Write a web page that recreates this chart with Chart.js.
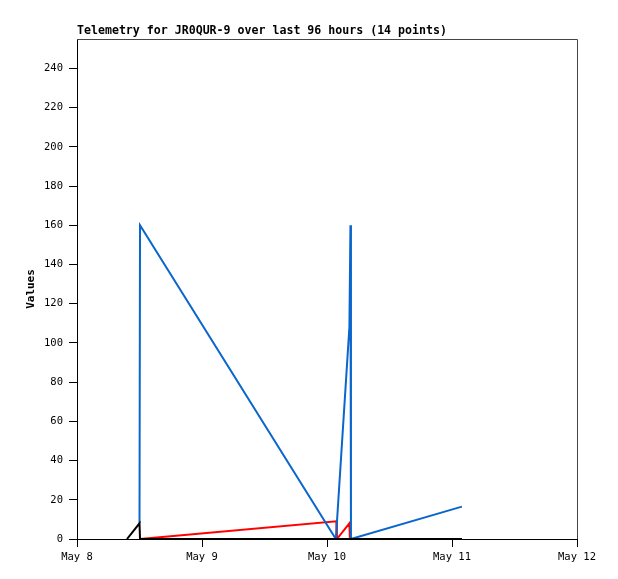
<!DOCTYPE html>
<html>
<head>
<meta charset="utf-8">
<script src="https://cdn.jsdelivr.net/npm/chart.js@4.4.1/dist/chart.umd.min.js"></script>
<style>
  html, body { margin: 0; padding: 0; background: #ffffff; }
  #wrap { width: 618px; height: 579px; }
</style>
</head>
<body>
<div id="wrap"><canvas id="c" width="618" height="579"></canvas></div>
<script>
// ---- data (x = hours since May 8 00:00) ----
const chartTitle = "Telemetry for JR0QUR-9 over last 96 hours (14 points)";
const yAxisTitle = "Values";
const xTickLabels = ["May 8", "May 9", "May 10", "May 11", "May 12"];
const yTickValues = [0, 20, 40, 60, 80, 100, 120, 140, 160, 180, 200, 220, 240];

const blackTimes  = [9.6, 12.0, 12.1, 73.9];
const blackValues = [0, 8, 0, 0];

const blueTimes  = [12.0, 12.1, 49.7, 52.3, 52.5, 52.6, 73.9];
const blueValues = [8, 160, 0, 108, 160, 0, 16.5];

const redTimes  = [12.1, 49.8, 49.9, 52.3, 52.4, 52.5, 73.9];
const redValues = [0, 9, 0, 8, 0, 0, 0];

function pts(times, values) { return times.map((t, i) => ({ x: t, y: values[i] })); }

const frameAndTitle = {
  id: 'frameAndTitle',
  beforeDatasetsDraw(chart) {
    const { ctx, chartArea: a } = chart;
    ctx.save();
    ctx.strokeStyle = '#444444';
    ctx.lineWidth = 1;
    ctx.beginPath();
    ctx.moveTo(a.left, a.top + 0.5);
    ctx.lineTo(a.right + 0.5, a.top + 0.5);
    ctx.lineTo(a.right + 0.5, a.bottom);
    ctx.stroke();
    ctx.restore();
  },
  afterDraw(chart) {
    const { ctx, chartArea: a } = chart;
    ctx.save();
    ctx.font = 'bold 11.6px "DejaVu Sans Mono", monospace';
    ctx.fillStyle = '#000000';
    ctx.textAlign = 'left';
    ctx.textBaseline = 'alphabetic';
    ctx.fillText(chartTitle, a.left, 34);
    ctx.restore();
  }
};

new Chart(document.getElementById('c'), {
  type: 'line',
  data: {
    datasets: [
      { label: 'black', data: pts(blackTimes, blackValues), borderColor: '#000000', borderWidth: 2, pointRadius: 0, tension: 0, fill: false },
      { label: 'blue',  data: pts(blueTimes, blueValues),   borderColor: '#0a66cc', borderWidth: 2, pointRadius: 0, tension: 0, fill: false },
      { label: 'red',   data: pts(redTimes, redValues),     borderColor: '#ff0000', borderWidth: 2, pointRadius: 0, tension: 0, fill: false }
    ]
  },
  options: {
    responsive: false,
    animation: false,
    devicePixelRatio: 1,
    layout: { padding: { left: 0, top: 39, right: 41, bottom: 0 } },
    plugins: { legend: { display: false }, title: { display: false }, tooltip: { enabled: false } },
    scales: {
      x: {
        type: 'linear',
        min: 0, max: 96,
        afterFit(s) { s.height = 40; },
        ticks: {
          stepSize: 24,
          autoSkip: false,
          maxRotation: 0,
          padding: 4,
          color: '#000000',
          font: { family: '"DejaVu Sans Mono", monospace', size: 10.5 },
          callback: (v) => xTickLabels[Math.round(v / 24)]
        },
        grid: { drawOnChartArea: false, drawTicks: true, tickLength: 8, color: '#000000' },
        border: { display: true, color: '#000000', width: 1 }
      },
      y: {
        type: 'linear',
        min: 0, max: 255,
        afterFit(s) { s.width = 77; },
        afterBuildTicks(s) { s.ticks = yTickValues.map(v => ({ value: v })); },
        ticks: {
          stepSize: 20,
          includeBounds: false,
          padding: 6,
          color: '#000000',
          font: { family: '"DejaVu Sans Mono", monospace', size: 10.5 }
        },
        grid: { drawOnChartArea: false, drawTicks: true, tickLength: 8, color: '#000000' },
        border: { display: true, color: '#000000', width: 1 },
        title: {
          display: true,
          text: yAxisTitle,
          color: '#000000',
          font: { family: '"DejaVu Sans Mono", monospace', size: 11, weight: 'bold' },
          padding: { top: 25, bottom: 0 }
        }
      }
    }
  },
  plugins: [frameAndTitle]
});
</script>
</body>
</html>
